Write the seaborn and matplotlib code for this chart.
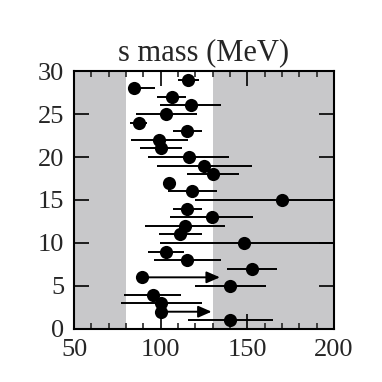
import matplotlib
matplotlib.use('Agg')
import matplotlib.pyplot as plt
import seaborn as sns
import numpy as np
import pandas as pd

# s quark mass determinations (MeV), one per row
rows = list(range(29, 0, -1))
mass = [116, 84.6, 106.4, 117.5, 103, 87.7, 115, 99.2, 100.2, 116.2,
        125, 130, 105, 118.3, 170.2, 115, 129.4, 114, 111.2, 148.1,
        103.1, 115, 152.5, 89, 140, 95.4, 100.2, 100.2, 140]
err_lo = [110, 83, 97.7, 99.6, 85.8, 82, 107, 82.9, 88, 92.9,
          97.7, 115, 105, 104.4, 119.8, 107.3, 105.4, 91, 99, 99.6,
          92.9, 96.2, 138.5, 89, 119.8, 78.8, 76.9, 100.2, 116]
err_hi = [122.3, 97, 114.6, 134.6, 120.8, 92, 123.7, 115.6, 112.5, 139.6,
          152.5, 145.4, 105, 132.3, 215, 123.6, 153.5, 137.1, 123.7, 215,
          113.5, 134.6, 166.9, 89, 160.8, 111.5, 123.6, 100.2, 164.7]
# lower limits drawn as arrows
limit_rows = [6, 2]
limit_to = [134.2, 129.4]

band_lo, band_hi = 80, 130

df = pd.DataFrame({'y': rows, 'mass': mass, 'lo': err_lo, 'hi': err_hi})

sns.set_style('ticks')
plt.rcParams['font.family'] = ['Liberation Serif', 'DejaVu Serif']

fig = plt.figure(figsize=(3.82, 3.82), dpi=100)
ax = fig.add_axes([0.194, 0.139, 0.680, 0.675])

ax.axvspan(50, band_lo, color='#c8c8ca', lw=0, zorder=0)
ax.axvspan(band_hi, 200, color='#c8c8ca', lw=0, zorder=0)

ax.hlines(df['y'], df['lo'], df['hi'], color='black', lw=1.4, zorder=2)
for yy, x_end in zip(limit_rows, limit_to):
    x0 = df.loc[df['y'] == yy, 'mass'].iloc[0]
    ax.annotate('', xy=(x_end, yy), xytext=(x0, yy),
                arrowprops=dict(arrowstyle='-|>,head_length=0.8,head_width=0.35',
                                color='black', lw=1.4, shrinkA=0, shrinkB=0),
                zorder=2)

sns.scatterplot(data=df, x='mass', y='y', ax=ax, color='black', s=90,
                edgecolor='black', linewidth=0, zorder=3, legend=False)

ax.set_xlim(50, 200)
ax.set_ylim(0, 30)
ax.set_xticks([50, 100, 150, 200])
ax.set_xticks(np.arange(50, 201, 10), minor=True)
ax.set_yticks([0, 5, 10, 15, 20, 25, 30])
ax.set_xlabel('')
ax.set_ylabel('')
ax.set_title('s mass (MeV)', fontsize=22, pad=8)

ax.tick_params(axis='both', which='major', direction='in', length=11, width=1.2,
               labelsize=19, top=True, right=True, pad=7, color='black')
ax.tick_params(axis='x', which='minor', direction='in', length=4, width=1.2,
               top=True, bottom=True)
for s in ax.spines.values():
    s.set_linewidth(1.5)
    s.set_color('black')
    s.set_zorder(5)

fig.savefig('out.png', dpi=100)
